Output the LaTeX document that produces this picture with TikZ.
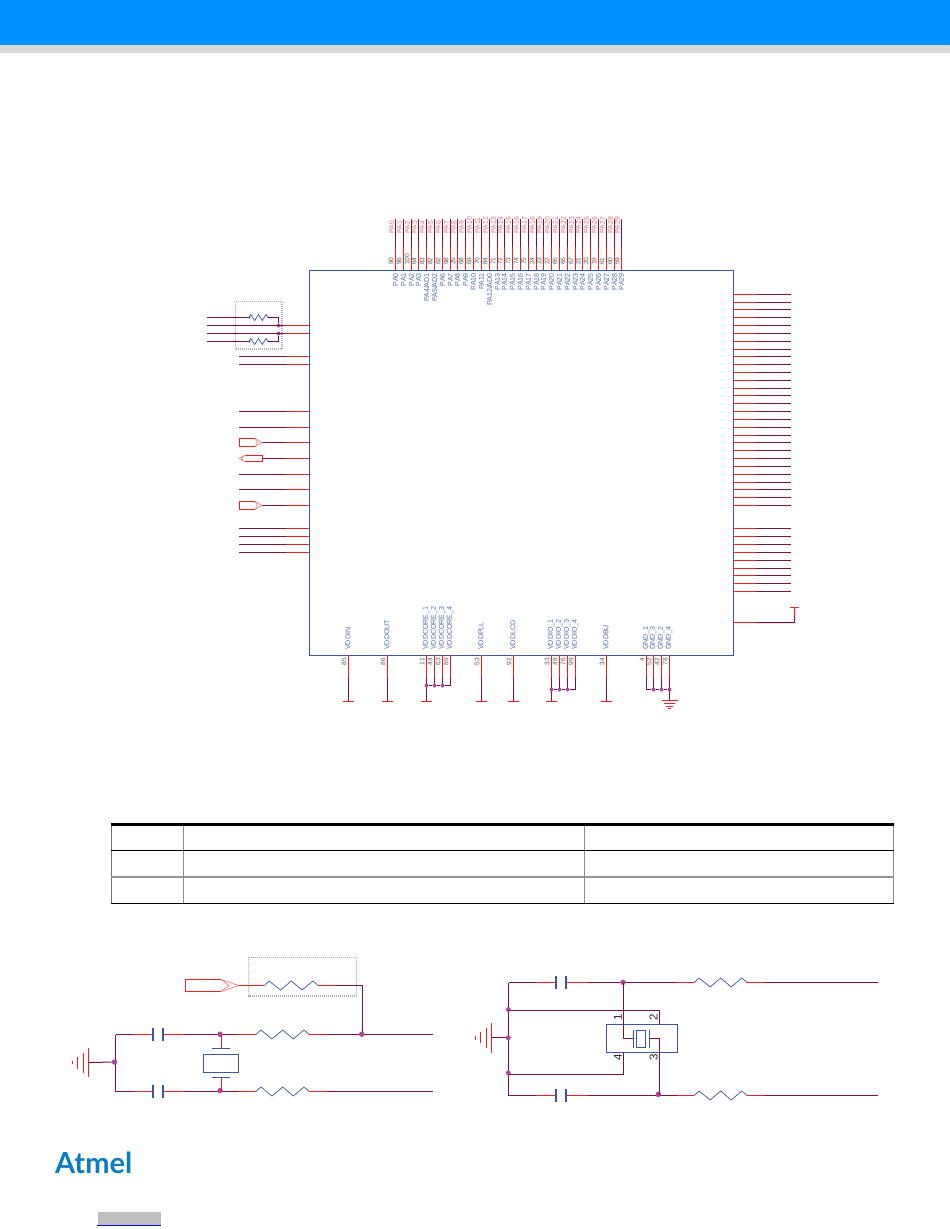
\documentclass[tikz,border=0pt]{standalone}
\usepackage{fontspec}
\setmainfont{Liberation Sans}
\newfontfamily\logofont{Lato}
\usetikzlibrary{calc}
\definecolor{wine}{HTML}{7A1048}
\definecolor{wred}{HTML}{F01E23}
\definecolor{pale}{HTML}{F58A8A}
\definecolor{sym}{HTML}{3A55A4}
\definecolor{dotc}{HTML}{B0479C}
\definecolor{txtblue}{HTML}{4F6CAD}
\definecolor{txtred}{HTML}{F26A6A}
\definecolor{txtgray}{HTML}{5A5A5A}
\definecolor{topblue}{HTML}{0090FF}
\definecolor{logoblue}{HTML}{0A7DC2}
\tikzset{
  x=1pt,y=-1pt,
  wd/.style={draw=wine,line width=1pt},
  wr/.style={draw=wred,line width=1pt},
  sy/.style={draw=sym,line width=1pt},
  capp/.style={draw=sym,line width=1.9pt},
  zig/.style={draw=sym,line width=0.7pt},
  dashbox/.style={draw=black!32,line width=1.1pt,dash pattern=on 1pt off 1pt},
  jdot/.style={circle,fill=dotc,inner sep=0pt,minimum size=4pt},
  jdotb/.style={circle,fill=dotc,inner sep=0pt,minimum size=5.5pt},
  lblb/.style={font=\fontsize{7.1}{8}\selectfont,text=txtblue,rotate=90,inner sep=0pt},
  lblr/.style={font=\fontsize{6.8}{8}\selectfont,text=txtred,rotate=90,inner sep=0pt,anchor=west},
  lblg/.style={font=\fontsize{6.6}{8}\selectfont,text=txtgray,rotate=90,inner sep=0pt},
  pinno/.style={font=\fontsize{11.5}{12}\selectfont,text=black!85,rotate=90,inner sep=0pt},
  chipbox/.style={draw=sym,line width=1pt,rectangle,inner sep=0pt,minimum width=424pt,minimum height=385pt},
  tblack/.style={draw=black,line width=1pt},
  tgray/.style={draw=black!45,line width=1pt},
}
% resistor between two named coordinates: #3 = amplitude
\newcommand{\zigres}[3]{%
  \draw[zig] (#1) -- ($(#1)!.09!(#2)+(0,-#3)$) -- ($(#1)!.30!(#2)+(0,#3)$) -- ($(#1)!.50!(#2)+(0,-#3)$) -- ($(#1)!.70!(#2)+(0,#3)$) -- ($(#1)!.90!(#2)+(0,-#3)$) -- (#2);
}
\begin{document}
\begin{tikzpicture}
\useasboundingbox (0,0) rectangle (950,1229);
\fill[white] (0,0) rectangle (950,1229);
\fill[topblue] (0,0) rectangle (950,45);
\fill[black!15] (0,45) rectangle (950,52.7);

% ---------- chip ----------
\node[chipbox] (chip) at (521.5,463) {};

% top pins
\foreach \lab/\num/\inner [count=\i from 0] in {PA0/90/PA0,PA1/96/PA1,PA2/100/PA2,PA3/64/PA3,PA4/83/{PA4/AD1},PA5/82/{PA5/AD2},PA6/62/PA6,PA7/98/PA7,PA8/25/PA8,PA9/68/PA9,PA10/69/PA10,PA11/70/PA11,PA12/84/{PA12/AD0},PA13/71/PA13,PA14/72/PA14,PA15/73/PA15,PA16/74/PA16,PA17/75/PA17,PA18/24/PA18,PA19/23/PA19,PA20/22/PA20,PA21/65/PA21,PA22/66/PA22,PA23/67/PA23,PA24/21/PA24,PA25/20/PA25,PA26/19/PA26,PA27/61/PA27,PA28/60/PA28,PA29/59/PA29}{
  \pgfmathsetmacro{\px}{floor(395.5+7.81*\i)+.5}
  \coordinate (tA\i) at (\px,219);
  \coordinate (tB\i) at (\px,247);
  \coordinate (tC\i) at (\px,270);
  \draw[wd] (tA\i) -- (tB\i);
  \draw[wr] (tB\i) -- (tC\i);
  \node[lblr] (tL\i) at (\px-4,233.5) {\lab};
  \node[lblg,anchor=west] (tN\i) at (\px-4.5,265) {\num};
  \node[lblb,anchor=east] (tI\i) at (\px,273) {\inner};
}

% right pins
\foreach \y [count=\i] in {294.5,302.5,309.5,317.5,325.5,333.5,341.5,349.5,356.5,364.5,372.5,380.5,388.5,395.5,403.5,411.5,419.5,427.5,435.5,442.5,450.5,458.5,466.5,474.5,482.5,489.5,497.5,505.5,528.5,536.5,544.5,552.5,560.5,568.5,575.5,583.5,591.5}{
  \coordinate (rA\i) at (733,\y);
  \coordinate (rB\i) at (756,\y);
  \coordinate (rC\i) at (791,\y);
  \draw[wr] (rA\i) -- (rB\i);
  \draw[wd] (rB\i) -- (rC\i);
}
\coordinate (rzA) at (733,622.5);
\coordinate (rzB) at (756,622.5);
\coordinate (rzC) at (794.5,622.5);
\coordinate (rzD) at (794.5,607.5);
\draw[wr] (rzA) -- (rzB);
\draw[wd] (rzB) -- (rzC) -- ($(rzC)!.45!(rzD)$);
\draw[wr] ($(rzC)!.45!(rzD)$) -- (rzD);
\draw[wr] (790,607.5) -- (799,607.5);

% left pins, plain
\foreach \y [count=\i] in {356.5,364.5,411.5,427.5,474.5,489.5,528.5,536.5,544.5,552.5}{
  \coordinate (lA\i) at (239,\y);
  \coordinate (lB\i) at (286,\y);
  \coordinate (lC\i) at (309,\y);
  \draw[wd] (lA\i) -- (lB\i);
  \draw[wr] (lB\i) -- (lC\i);
}
% left pins with out ports
\foreach \y [count=\i] in {442.5,505.5}{
  \coordinate (pT\i) at (262,\y);
  \coordinate (pB\i) at (286,\y);
  \coordinate (pC\i) at (309,\y);
  \draw[wd] (pT\i) -- (pB\i);
  \draw[wr] (pB\i) -- (pC\i);
  \draw[wr] (255,\y-4) -- (239.5,\y-4) -- (239.5,\y+4) -- (255,\y+4);
  \draw[draw=pale,line width=.7pt] (255,\y-4) -- (262,\y) -- (255,\y+4) (255,\y-4) -- (257.5,\y) -- (255,\y+4);
}
% left pin with in port
\coordinate (pTi) at (262.5,458.5);
\coordinate (pBi) at (286,458.5);
\coordinate (pCi) at (309,458.5);
\draw[wd] (pTi) -- (pBi);
\draw[wr] (pBi) -- (pCi);
\draw[wr] (244.5,455.5) -- (262.5,455.5) -- (262.5,461.5) -- (244.5,461.5);
\draw[draw=pale,line width=.7pt] (244.5,455.5) -- (239,458.5) -- (244.5,461.5) (244.5,455.5) -- (241.5,458.5) -- (244.5,461.5);

% left resistor network
\draw[dashbox] (235.3,301.7) rectangle (282,349);
\coordinate (w1) at (207,317.5);
\coordinate (w2) at (207,325.5);
\coordinate (w3) at (207,333.5);
\coordinate (w4) at (207,341.5);
\coordinate (ra1) at (249,317.5);
\coordinate (rb1) at (268,317.5);
\coordinate (ra2) at (249,341.5);
\coordinate (rb2) at (268,341.5);
\coordinate (w2b) at (286,325.5);
\coordinate (w3b) at (286,333.5);
\coordinate (w2c) at (309,325.5);
\coordinate (w3c) at (309,333.5);
\node[jdot] (jn1) at (278.5,325.5) {};
\node[jdot] (jn2) at (278.5,333.5) {};
\draw[wd] (w1) -- (ra1);
\draw[wd] (w4) -- (ra2);
\draw[wd] (w2) -- (w2b);
\draw[wd] (w3) -- (w3b);
\draw[wr] (w2b) -- (w2c);
\draw[wr] (w3b) -- (w3c);
\draw[wd] (rb1) -| (jn1);
\draw[wd] (rb2) -| (jn2);
\zigres{ra1}{rb1}{3}
\zigres{ra2}{rb2}{3}
\fill[sym] (249.3,317.5) circle (1.2pt) (249.3,341.5) circle (1.2pt);

% bottom pins
\foreach \px/\num/\lab/\ey in {348.5/85/VDDIN/701,387.5/86/VDDOUT/701,426.5/11/VDDCORE\_1/701,434.5/44/VDDCORE\_2/685.5,442.5/63/VDDCORE\_3/685.5,450.5/89/VDDCORE\_4/685.5,481.5/53/VDDPLL/701,513.5/92/VDDLCD/701,551.5/33/VDDIO\_1/701,559.5/49/VDDIO\_2/689.5,567.5/76/VDDIO\_3/689.5,575.5/99/VDDIO\_4/689.5,606.5/34/VDDBU/701,646.5/4/GND\_1/689.5,653.5/52/GND\_3/689.5,661.5/42/GND\_2/689.5,669.5/78/GND\_4/700.5}{
  \coordinate (bA\num) at (\px,655);
  \coordinate (bB\num) at (\px,677.7);
  \coordinate (bC\num) at (\px,\ey);
  \draw[wr] (bA\num) -- (bB\num);
  \draw[wd] (bB\num) -- (bC\num);
  \node[lblb,anchor=west] (bL\num) at (\px-.5,650) {\lab};
  \node[lblg,anchor=east] (bN\num) at (\px-4.5,658) {\num};
}
\foreach \px in {348.5,387.5,426.5,481.5,513.5,551.5,606.5}
  \draw[wr] (\px-5.5,701.5) -- (\px+5.5,701.5);
\node[jdot] (jc1) at (426.5,685.5) {};
\node[jdot] (jc2) at (434.5,685.5) {};
\node[jdot] (jc3) at (442.5,685.5) {};
\draw[wd] (jc1) -- (jc2) -- (jc3) -- (bC89);
\node[jdot] (ji1) at (551.5,689.5) {};
\node[jdot] (ji2) at (559.5,689.5) {};
\node[jdot] (ji3) at (567.5,689.5) {};
\draw[wd] (ji1) -- (ji2) -- (ji3) -- (bC99);
\node[jdot] (jg1) at (653.5,689.5) {};
\node[jdot] (jg2) at (661.5,689.5) {};
\node[jdot] (jg3) at (669.5,689.5) {};
\draw[wd] (bC4) -- (jg1) -- (jg2) -- (jg3);
\draw[wr] (661.5,700.5) -- (677.5,700.5);
\draw[wr] (664,703.5) -- (675,703.5);
\draw[wr] (666,706.5) -- (673,706.5);
\draw[wr] (668,708.5) -- (671,708.5);

% ---------- table ----------
\draw[tgray] (183.5,825) -- (183.5,903) (584.5,825) -- (584.5,903);
\draw[draw=black!55,line width=1pt] (111.5,825) -- (111.5,903);
\draw[draw=black!45,line width=1.4pt] (893.7,825) -- (893.7,903);
\draw[draw=black,line width=2.8pt] (111,824.6) -- (894,824.6);
\draw[draw=black,line width=1.6pt] (111,850.5) -- (894,850.5);
\draw[draw=black!42,line width=1.2pt] (111,877) -- (894,877);
\draw[tblack] (111,903.5) -- (894,903.5);

% ---------- lower-left circuit ----------
\draw[dashbox] (248.7,957.3) rectangle (356.7,996);
\draw[wr] (221,979.5) -- (185.5,979.5) -- (185.5,991.5) -- (221,991.5);
\draw[draw=pale,line width=.8pt] (221,979.5) -- (239,985.5) -- (221,991.5) (221,979.5) -- (229,985.5) -- (221,991.5);
\coordinate (aP) at (239,985.5);
\coordinate (aR1) at (264.3,985.5);
\coordinate (aR2) at (318.3,985.5);
\coordinate (aW) at (335.7,985.5);
\coordinate (aC) at (362.5,985.5);
\draw[wr] (aP) -- (aR1);
\zigres{aR1}{aR2}{4.5}
\draw[wr] (aR2) -- (aW);
\draw[wd] (aW) -- (aC);

\foreach \n/\y in {T/1034.5,B/1091.5}{
  \coordinate (l\n0) at (115.5,\y);
  \coordinate (l\n1) at (132.7,\y);
  \coordinate (l\n2) at (152.3,\y);
  \coordinate (l\n3) at (163,\y);
  \coordinate (l\n4) at (185,\y);
  \coordinate (l\n5) at (238.3,\y);
  \coordinate (l\n6) at (256,\y);
  \coordinate (l\n7) at (309.3,\y);
  \coordinate (l\n8) at (327,\y);
  \coordinate (l\n9) at (432.7,\y);
  \draw[wd] (l\n0) -- (l\n1);
  \draw[wr] (l\n1) -- (l\n2);
  \draw[wr] (l\n3) -- (l\n4);
  \draw[wd] (l\n4) -- (l\n5);
  \draw[wr] (l\n5) -- (l\n6);
  \zigres{l\n6}{l\n7}{4.5}
  \draw[wr] (l\n7) -- (l\n8);
  \draw[wd] (l\n8) -- (l\n9);
  \draw[capp] (153,\y-6.3) -- (153,\y+6.3) (163,\y-6.3) -- (163,\y+6.3);
}
\draw[wd] (lT0) -- (lB0);
\draw[wd] (aC) -- (362.5,1034.5);
\node[jdotb] (jA) at (361.7,1034.2) {};
\node[jdotb] (jB) at (114.5,1062) {};
\node[jdotb] (jC) at (220,1034.2) {};
\node[jdotb] (jD) at (220,1090.7) {};
% ground
\coordinate (gL) at (88.5,1062.5);
\draw[wd] (gL) -- (jB);
\draw[wr] (88.5,1048) -- (88.5,1076.7);
\draw[wr] (83.5,1052.7) -- (83.5,1072.7);
\draw[wr] (77.5,1057.3) -- (77.5,1068.7);
\draw[wr] (72.5,1060.7) -- (72.5,1064.3);
% crystal
\draw[wr] (221.5,1034.5) -- (221.5,1048.5);
\draw[wr] (221.5,1091) -- (221.5,1077.5);
\draw[sy] (212,1048.5) -- (230,1048.5) (212,1077.5) -- (230,1077.5);
\node[draw=sym,line width=1pt,inner sep=0pt,minimum width=35pt,minimum height=18pt] (xtal) at (221,1063.5) {};

% ---------- lower-right circuit ----------
\foreach \n/\y in {U/982.5,D/1095.5}{
  \coordinate (r\n0) at (508.5,\y);
  \coordinate (r\n1) at (535.7,\y);
  \coordinate (r\n2) at (555.3,\y);
  \coordinate (r\n3) at (566,\y);
  \coordinate (r\n4) at (587.7,\y);
  \coordinate (r\n5) at (677,\y);
  \coordinate (r\n6) at (694.3,\y);
  \coordinate (r\n7) at (747,\y);
  \coordinate (r\n8) at (764.7,\y);
  \coordinate (r\n9) at (877.7,\y);
  \draw[wd] (r\n0) -- (r\n1);
  \draw[wr] (r\n1) -- (r\n2);
  \draw[wr] (r\n3) -- (r\n4);
  \draw[wd] (r\n4) -- (r\n5);
  \draw[wr] (r\n5) -- (r\n6);
  \zigres{r\n6}{r\n7}{4.5}
  \draw[wr] (r\n7) -- (r\n8);
  \draw[wd] (r\n8) -- (r\n9);
  \draw[capp] (556,\y-6.5) -- (556,\y+6.5) (566,\y-6.5) -- (566,\y+6.5);
}
\draw[wd] (rU0) -- (rD0);
\node[draw=sym,line width=1pt,inner sep=0pt,minimum width=71pt,minimum height=28pt] (osc) at (642,1038.5) {};
\node[jdotb] (jE) at (623,982.3) {};
\node[jdotb] (jF) at (658.3,1094.4) {};
\node[jdot,minimum size=5pt] (jG) at (508.3,1009.5) {};
\node[jdot,minimum size=5pt] (jH) at (508.3,1037.7) {};
\node[jdot,minimum size=5pt] (jI) at (508.3,1073) {};
\draw[wd] (508.5,1010.5) -- (659.5,1010.5) -- (659.5,1024.5);
\draw[wd] (508.5,1074.5) -- (623.5,1074.5) -- (623.5,1052.5);
\draw[wd] (623.5,982.5) -- (623.5,1038.5) -- (633.5,1038.5);
\draw[wd] (649.5,1038.5) -- (659.5,1038.5) -- (659.5,1095);
\draw[sy] (633.5,1029.5) -- (633.5,1047.5) (649.5,1029.5) -- (649.5,1047.5);
\node[draw=sym,line width=1pt,inner sep=0pt,minimum width=9pt,minimum height=17pt] (qz) at (641,1039) {};
\node[pinno] (n1) at (618,1017.7) {1};
\node[pinno] (n2) at (653.7,1017.7) {2};
\node[pinno] (n4) at (618,1057.7) {4};
\node[pinno] (n3) at (653.7,1057.7) {3};
\coordinate (gR) at (491.5,1037.7);
\draw[wd] (gR) -- (jH);
\draw[wr] (491.5,1023.3) -- (491.5,1052.7);
\draw[wr] (486.5,1028) -- (486.5,1048.3);
\draw[wr] (480.5,1032.3) -- (480.5,1043.3);
\draw[wr] (475.5,1036) -- (475.5,1040);

% ---------- logo & footer ----------
\node[anchor=base west,inner sep=0pt,font=\logofont\fontsize{29}{30}\selectfont\bfseries,text=logoblue] (logo) at (55,1173.3) {Atmel};
\fill[black!25] (97.7,1211.7) rectangle (160.7,1225);
\draw[draw=blue!80!black,line width=.7pt] (97,1225.5) -- (161,1225.5);
\end{tikzpicture}
\end{document}
